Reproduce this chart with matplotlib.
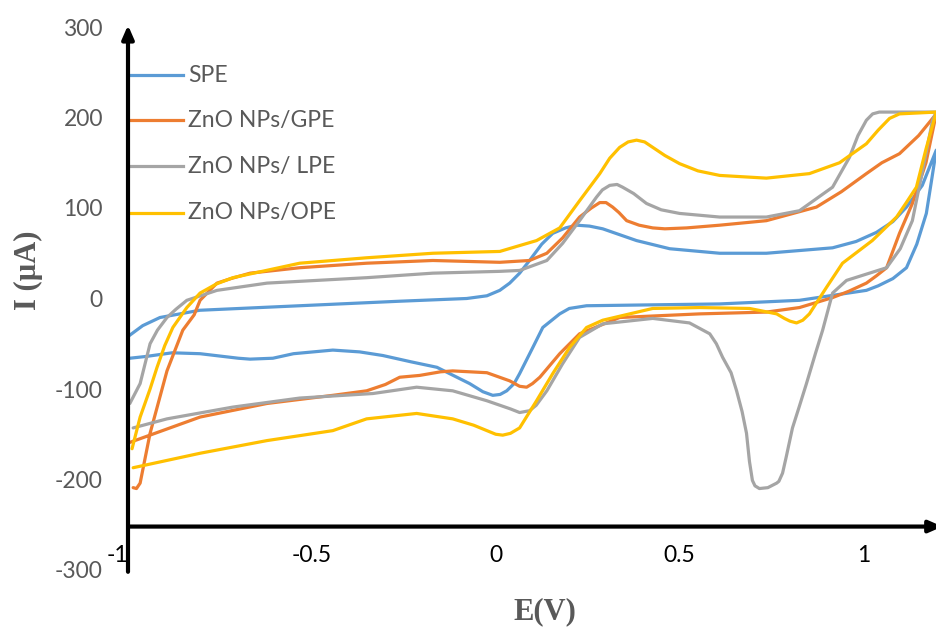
import numpy as np
import matplotlib
matplotlib.use("Agg")
from matplotlib import pyplot as plt

# cyclic voltammograms: forward scan then reverse scan
spe_E = [-1.000, -0.960, -0.913, -0.805, -0.533, -0.261, -0.079, -0.024, 0.011, 0.038, 0.065, 0.092,
         0.125, 0.155, 0.190, 0.220, 0.255, 0.291, 0.383, 0.473, 0.609, 0.736, 0.916, 0.980, 1.035,
         1.080, 1.117, 1.160, 1.198,
         1.185, 1.171, 1.145, 1.117, 1.080, 1.040, 1.008, 0.826, 0.609, 0.247, 0.200, 0.174, 0.128,
         0.101, 0.065, 0.050, 0.030, 0.012, -0.008, -0.035, -0.071, -0.160, -0.230, -0.307, -0.370,
         -0.443, -0.550, -0.606, -0.668, -0.700, -0.804, -0.880, -0.950, -0.995]
spe_I = [-42, -30, -21, -13, -8, -3, 0, 3, 9, 17, 28, 42,
         60, 72, 78, 81, 80, 77, 64, 55, 50, 50, 56, 63, 73,
         85, 101, 125, 164,
         130, 94, 60, 34, 22, 14, 9, -2, -6, -8, -11, -17, -32,
         -54, -83, -94, -102, -106, -107, -103, -94, -76, -70, -63, -59,
         -57, -61, -66, -67, -66, -61, -60, -64, -66]

gpe_E = [-0.986, -0.977, -0.967, -0.940, -0.894, -0.851, -0.820, -0.804, -0.780, -0.758, -0.720, -0.668,
         -0.533, -0.351, -0.171, 0.011, 0.092, 0.139, 0.182, 0.228, 0.260, 0.283, 0.300, 0.318, 0.335,
         0.356, 0.390, 0.427, 0.460, 0.519, 0.609, 0.736, 0.872, 0.940, 1.008, 1.050, 1.098, 1.150,
         1.198,
         1.170, 1.133, 1.098, 1.063, 1.035, 1.008, 0.960, 0.916, 0.826, 0.736, 0.554, 0.337, 0.228,
         0.174, 0.120, 0.100, 0.084, 0.065, 0.038, -0.024, -0.117, -0.150, -0.207, -0.261, -0.300,
         -0.351, -0.443, -0.622, -0.804, -0.995]
gpe_I = [-209, -210, -204, -149, -80, -35, -18, -2, 8, 17, 22, 28,
         34, 39, 42, 40, 42, 50, 67, 90, 100, 106, 106, 101, 95,
         86, 81, 78, 77, 78, 81, 86, 101, 118, 138, 150, 160, 180,
         204,
         150, 105, 72, 34, 25, 17, 8, 1, -10, -15, -17, -21, -39,
         -61, -87, -94, -98, -97, -91, -82, -80, -81, -85, -87, -95,
         -102, -107, -116, -131, -159]

lpe_E = [-0.995, -0.967, -0.940, -0.920, -0.894, -0.870, -0.840, -0.758, -0.622, -0.351, -0.171, 0.011,
         0.065, 0.139, 0.182, 0.228, 0.274, 0.290, 0.310, 0.330, 0.345, 0.375, 0.410, 0.450, 0.500,
         0.609, 0.736, 0.826, 0.916, 0.962, 0.985, 1.008, 1.025, 1.043, 1.198,
         1.188, 1.160, 1.133, 1.100, 1.063, 0.954, 0.916, 0.889, 0.870, 0.845, 0.825, 0.807, 0.790,
         0.780, 0.770, 0.764, 0.740, 0.717, 0.705, 0.698, 0.690, 0.682, 0.670, 0.655, 0.640, 0.617,
         0.600, 0.582, 0.527, 0.427, 0.291, 0.228, 0.182, 0.139, 0.110, 0.092, 0.065, 0.040, -0.024,
         -0.117, -0.215, -0.334, -0.533, -0.715, -0.894, -0.986]
lpe_I = [-116, -94, -50, -35, -21, -12, -2, 9, 17, 23, 28, 30,
         31, 42, 61, 86, 112, 120, 125, 126, 123, 116, 105, 98, 94,
         90, 90, 97, 123, 156, 180, 197, 204, 206, 206,
         197, 140, 86, 55, 34, 20, 6, -35, -60, -94, -120, -143, -175,
         -193, -202, -204, -209, -210, -207, -201, -180, -149, -125, -102, -82, -65,
         -50, -39, -27, -22, -28, -43, -72, -102, -118, -124, -126, -122, -113,
         -102, -98, -105, -110, -120, -133, -143]

ope_E = [-0.989, -0.967, -0.940, -0.921, -0.900, -0.878, -0.840, -0.804, -0.760, -0.715, -0.533, -0.351,
         -0.171, 0.011, 0.111, 0.174, 0.228, 0.283, 0.310, 0.337, 0.360, 0.383, 0.405, 0.427, 0.460,
         0.500, 0.550, 0.609, 0.736, 0.853, 0.935, 1.008, 1.040, 1.071, 1.098, 1.198,
         1.170, 1.144, 1.115, 1.090, 1.024, 0.943, 0.899, 0.853, 0.835, 0.818, 0.800, 0.785, 0.764,
         0.690, 0.554, 0.427, 0.291, 0.247, 0.201, 0.155, 0.111, 0.065, 0.040, 0.019, 0.000, -0.024,
         -0.060, -0.117, -0.215, -0.351, -0.443, -0.622, -0.804, -0.986]
ope_I = [-166, -131, -100, -76, -52, -32, -10, 6, 16, 23, 39, 45,
         50, 52, 64, 78, 108, 138, 155, 167, 173, 175, 173, 167, 158,
         149, 141, 136, 133, 138, 150, 171, 186, 199, 204, 206,
         165, 123, 105, 90, 64, 39, 12, -17, -24, -27, -25, -22, -17,
         -11, -10, -11, -24, -32, -54, -83, -113, -143, -149, -151, -150, -146,
         -140, -133, -127, -133, -146, -157, -171, -187]

labels = ["SPE", "ZnO NPs/GPE", "ZnO NPs/ LPE", "ZnO NPs/OPE"]
colors = ["#5B9BD5", "#ED7D31", "#A5A5A5", "#FFC000"]
series = [(spe_E, spe_I), (gpe_E, gpe_I), (lpe_E, lpe_I), (ope_E, ope_I)]

y_ticks = [-300, -200, -100, 0, 100, 200, 300]
x_ticks = [-1, -0.5, 0, 0.5, 1]
x_ticklabels = ["-1", "-0.5", "0", "0.5", "1"]

plt.rcParams['font.family'] = ['Lato', 'DejaVu Sans']

fig = plt.figure(figsize=(9.37, 6.32), dpi=100)
ax = fig.add_axes([128/937, 62/632, 809/937, 543/632])

for (E, I), c in zip(series, colors):
    ax.plot(E, I, color=c, lw=2.3, solid_joinstyle='round', solid_capstyle='round')

ax.set_xlim(-1, 1.2)
ax.set_ylim(-300, 300)
for s in ax.spines.values():
    s.set_visible(False)

ax.set_yticks(y_ticks)
ax.set_yticklabels([str(v) for v in y_ticks])
ax.tick_params(axis='y', length=0, pad=18, labelsize=16.5, labelcolor='#595959')
ax.set_xticks(x_ticks)
ax.set_xticklabels(x_ticklabels)
ax.tick_params(axis='x', length=0, pad=-18, labelsize=16.5, labelcolor='black')
ax.get_xticklabels()[0].set_ha('right')

# axes drawn as arrows
ax.annotate('', xy=(-1, 302), xytext=(-1, -302), xycoords='data',
            arrowprops=dict(arrowstyle='-|>,head_length=0.8,head_width=0.35', lw=3, color='black',
                            shrinkA=0, shrinkB=0), annotation_clip=False)
ax.annotate('', xy=(1.215, -252), xytext=(-1, -252), xycoords='data',
            arrowprops=dict(arrowstyle='-|>,head_length=0.8,head_width=0.35', lw=3, color='black',
                            shrinkA=0, shrinkB=0), annotation_clip=False)

# legend drawn by hand next to the axis
leg_y = [0.9116, 0.8287, 0.744, 0.6575]
for lab, c, yy in zip(labels, colors, leg_y):
    ax.plot([0, 55/809], [yy, yy], color=c, lw=2.3, transform=ax.transAxes, clip_on=False)
    ax.text(60/809, yy, lab, transform=ax.transAxes, va='center', ha='left',
            fontsize=16.5, color='#595959')

fig.text(545/937, 1 - 612/632, "E(V)", ha='center', va='center', fontsize=22,
         fontweight='bold', family='Liberation Serif', color='#595959')
fig.text(28/937, 1 - 270/632, "I (µA)", ha='center', va='center', fontsize=22,
         fontweight='bold', family='Liberation Serif', color='#595959', rotation=90)

fig.savefig("out.png", dpi=100)
